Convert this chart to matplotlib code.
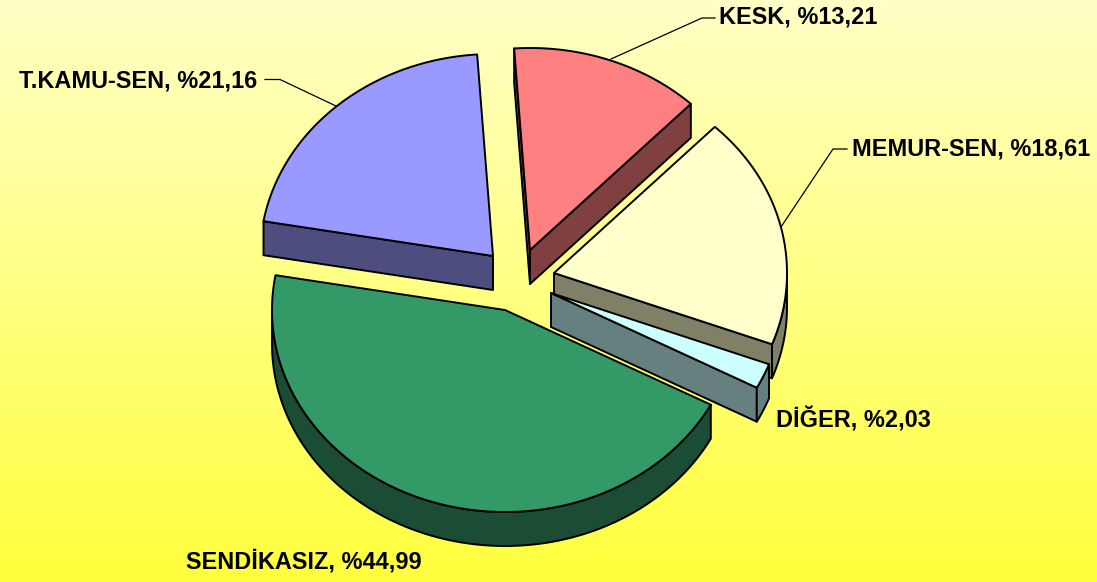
import numpy as np
import matplotlib
matplotlib.use("Agg")
import matplotlib.pyplot as plt
from matplotlib.patches import Polygon

names = ["KESK", "MEMUR-SEN", "DİĞER", "SENDİKASIZ", "T.KAMU-SEN"]
shares = [13.21, 18.61, 2.03, 44.99, 21.16]
labels = ["KESK, %13,21", "MEMUR-SEN, %18,61", "DİĞER, %2,03",
          "SENDİKASIZ, %44,99", "T.KAMU-SEN, %21,16"]

top_colors = ["#FF8080", "#FFFFCC", "#CCFFFF", "#339966", "#9999FF"]
side_colors = ["#804040", "#808066", "#668080", "#1A4D33", "#4D4D80"]

W, H = 1097, 582
START = 93.9
RX, RY, DEPTH = 233, 202, 34
apexes = [(530, 250), (554, 273), (551, 293), (505, 310), (493, 256)]
label_pos = [(719, 17), (852, 149), (776, 420), (186, 562), (19, 81)]
leaders = [[(611, 59), (702, 18), (715, 18)],
           [(781, 227), (833, 149), (847, 149)],
           None, None,
           [(336, 106), (280, 79.5), (265, 79.5)]]
draw_order = [4, 0, 1, 2, 3]

fig = plt.figure(figsize=(W / 100, H / 100), dpi=100)
ax = fig.add_axes([0, 0, 1, 1])
ax.set_xlim(0, W)
ax.set_ylim(H, 0)
ax.axis("off")

grad = np.linspace(0, 1, 256)[:, None]
rgb = np.dstack([np.ones_like(grad), np.ones_like(grad), 0.78 - 0.54 * grad])
ax.imshow(rgb, extent=[0, W, H, 0], aspect="auto", zorder=0)

LW = 1.4
fracs = np.array(shares) / sum(shares)
ends = START - 360 * np.cumsum(fracs)
starts = np.r_[START, ends[:-1]]


def rim(a, t):
    return a[0] + RX * np.cos(np.radians(t)), a[1] - RY * np.sin(np.radians(t))


def face(pts, color, z):
    ax.add_patch(Polygon(pts, closed=True, fc=color, ec="black", lw=LW,
                         joinstyle="round", zorder=z))


for z, i in enumerate(draw_order):
    a, t1, t2 = apexes[i], starts[i], ends[i]
    base = 10 + z * 5
    ts = np.linspace(t1, t2, 200)
    x, y = rim(a, ts)

    # radial walls: only those facing the viewer
    for t, vis in ((t1, np.cos(np.radians(t1)) < 0), (t2, np.cos(np.radians(t2)) > 0)):
        if vis:
            q = rim(a, t)
            face([a, q, (q[0], q[1] + DEPTH), (a[0], a[1] + DEPTH)], side_colors[i], base)

    # outer curved wall: only the lower half of the rim
    mask = np.sin(np.radians(ts)) <= 0
    if mask.any():
        xs, ys = x[mask], y[mask]
        pts = np.r_[np.c_[xs, ys], np.c_[xs[::-1], ys[::-1] + DEPTH]]
        face(pts, side_colors[i], base + 1)

    # top surface
    face(np.r_[[a], np.c_[x, y]], top_colors[i], base + 2)

for i, lab in enumerate(labels):
    ax.text(*label_pos[i], lab, family="Liberation Sans", weight="bold",
            fontsize=16.9, color="black", ha="left", va="center", zorder=60)
    if leaders[i]:
        lx, ly = zip(*leaders[i])
        ax.plot(lx, ly, color="black", lw=0.9, zorder=55)

fig.savefig("out.png", dpi=100)
